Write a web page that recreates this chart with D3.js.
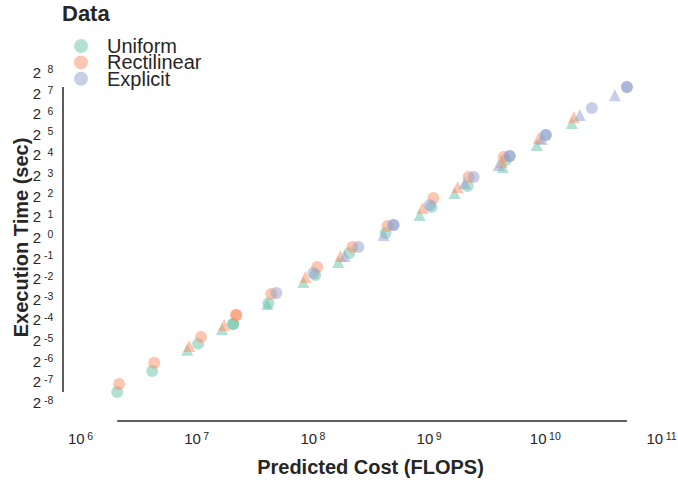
<!DOCTYPE html>
<html>
<head>
<meta charset="utf-8">
<script src="https://cdn.jsdelivr.net/npm/d3@7"></script>
<style>
    body { margin: 0; background: #fff; }
    text { font-family: "Liberation Sans", Arial, sans-serif; fill: #262626; }
</style>
</head>
<body>
<div id="wrapper"></div>
<script>
// 1. Access data

const methods = ["Uniform", "Rectilinear", "Explicit"]
const colors = ["#66c2a5", "#fc8d62", "#8da0cb"]

// [predicted cost (FLOPS), execution time (sec)]
// some runs sit on top of each other, which is why a few marks look darker
const uniformCircle = [
    [2.09e6, 0.00557], [4.18e6, 0.0113], [1.04e7, 0.0280], [2.08e7, 0.0545],
    [2.08e7, 0.0545], [4.18e7, 0.110], [1.06e8, 0.283], [2.08e8, 0.594],
    [4.26e8, 1.16], [1.06e9, 2.79], [2.17e9, 5.63], [4.61e9, 13.5],
]
const uniformTriangle = [
    [8.36e6, 0.0229], [1.67e7, 0.0461], [4.09e7, 0.107], [8.36e7, 0.224],
    [1.67e8, 0.438], [8.36e8, 2.13], [1.67e9, 4.45], [4.35e9, 10.7],
    [8.53e9, 22.3], [1.71e10, 46.9],
]
const rectilinearCircle = [
    [2.17e6, 0.00729], [4.35e6, 0.0148], [1.10e7, 0.0352], [2.21e7, 0.0738],
    [2.21e7, 0.0738], [4.43e7, 0.150], [1.10e8, 0.371], [2.21e8, 0.727],
    [4.43e8, 1.47], [1.10e9, 3.76], [2.21e9, 7.62], [4.43e9, 14.9],
]
const rectilinearTriangle = [
    [8.71e6, 0.0261], [1.74e7, 0.0529], [8.71e7, 0.265], [1.74e8, 0.536],
    [8.87e8, 2.69], [1.78e9, 5.45], [4.26e9, 12.6], [8.87e9, 28.2],
    [1.78e10, 57.3],
]
const explicitCircle = [
    [4.90e7, 0.155], [1.02e8, 0.303], [2.49e8, 0.727], [4.99e8, 1.52],
    [4.99e8, 1.52], [1.02e9, 2.97], [2.44e9, 7.62], [4.99e9, 15.4],
    [4.99e9, 15.4], [1.02e10, 31.3], [1.02e10, 31.3], [2.54e10, 77.4],
    [5.09e10, 157], [5.09e10, 157],
]
const explicitTriangle = [
    [1.89e8, 0.536], [4.09e8, 1.09], [2.04e9, 6.22], [4.01e9, 11.4],
    [9.42e9, 27.3], [2.00e10, 61.4], [4.01e10, 119],
]

const xTickExponents = [6, 7, 8, 9, 10, 11]
const yTickExponents = [8, 7, 6, 5, 4, 3, 2, 1, 0, -1, -2, -3, -4, -5, -6, -7, -8]

const circleSeries = [uniformCircle, rectilinearCircle, explicitCircle]
const triangleSeries = [uniformTriangle, rectilinearTriangle, explicitTriangle]

const points = []
methods.forEach((method, i) => {
    circleSeries[i].forEach(d => points.push({ method, shape: "circle", x: d[0], y: d[1] }))
    triangleSeries[i].forEach(d => points.push({ method, shape: "triangle", x: d[0], y: d[1] }))
})

const xAccessor = d => d.x
const yAccessor = d => d.y

// 2. Create chart dimensions

let dimensions = {
    width: 678,
    height: 483,
    margin: {
        top: 72.4,
        right: 17,
        bottom: 80.5,
        left: 80,
    },
}
dimensions.boundedWidth = dimensions.width
    - dimensions.margin.left
    - dimensions.margin.right
dimensions.boundedHeight = dimensions.height
    - dimensions.margin.top
    - dimensions.margin.bottom

// 3. Draw canvas

const wrapper = d3.select("#wrapper")
    .append("svg")
    .attr("width", dimensions.width)
    .attr("height", dimensions.height)

const bounds = wrapper.append("g")
    .attr("transform", `translate(${dimensions.margin.left},${dimensions.margin.top})`)

// 4. Create scales

const xScale = d3.scaleLog()
    .domain([1e6, 1e11])
    .range([0, dimensions.boundedWidth])

const yScale = d3.scaleLog()
    .base(2)
    .domain([2 ** -8, 2 ** 8])
    .range([dimensions.boundedHeight, 0])

const colorScale = d3.scaleOrdinal()
    .domain(methods)
    .range(colors)

// 5. Draw data

const triangleUp = {
    draw(context, size) {
        const s = Math.sqrt(size) / 2
        context.moveTo(0, -s)
        context.lineTo(s, s)
        context.lineTo(-s, s)
        context.closePath()
    }
}

bounds.append("g")
    .selectAll("path")
    .data(points)
    .enter()
    .append("path")
    .attr("transform", d => `translate(${xScale(xAccessor(d))},${yScale(yAccessor(d))})`)
    .attr("d", d => d.shape == "circle"
        ? d3.symbol().type(d3.symbolCircle).size(Math.PI * 36)()
        : d3.symbol().type(triangleUp).size(144)())
    .attr("fill", d => colorScale(d.method))
    .attr("fill-opacity", 0.5)

// 6. Draw peripherals

const xSpineY = dimensions.boundedHeight + 18.5
const ySpineX = -17

// x axis: spine trimmed to the data range
const xAxisGenerator = d3.axisBottom()
    .scale(xScale)
    .tickValues(xTickExponents.map(e => 10 ** e))
    .tickSize(0)
    .tickFormat("")

const xAxis = bounds.append("g")
    .attr("transform", `translate(0,${xSpineY})`)
    .call(xAxisGenerator)
xAxis.select(".domain").remove()

xAxis.selectAll(".tick text")
    .attr("y", 23)
    .attr("dy", null)
    .attr("fill", null)
    .style("font-size", "15px")
    .each(function (d) {
        const t = d3.select(this)
        t.append("tspan").text("10")
        t.append("tspan")
            .attr("dx", 2.5)
            .attr("dy", -4)
            .style("font-size", "10.5px")
            .text(Math.round(Math.log10(d)))
    })

const xExtent = d3.extent(points, xAccessor)
xAxis.append("line")
    .attr("x1", xScale(xExtent[0]))
    .attr("x2", xScale(xExtent[1]))
    .attr("stroke", "#262626")
    .attr("stroke-width", 1.5)

// y axis
const yAxisGenerator = d3.axisLeft()
    .scale(yScale)
    .tickValues(yTickExponents.map(e => 2 ** e))
    .tickSize(0)
    .tickFormat("")

const yAxis = bounds.append("g")
    .attr("transform", `translate(${ySpineX},0)`)
    .call(yAxisGenerator)
yAxis.select(".domain").remove()

yAxis.selectAll(".tick text")
    .attr("x", null)
    .attr("dy", null)
    .attr("y", 5)
    .attr("fill", null)
    .attr("text-anchor", "end")
    .style("font-size", "15px")
    .each(function (d) {
        const t = d3.select(this)
        t.append("tspan").attr("x", -22).text("2")
        t.append("tspan")
            .attr("x", -9.7)
            .attr("dy", -4.5)
            .style("font-size", "10.5px")
            .text(Math.round(Math.log2(d)))
    })

const yExtent = d3.extent(points, yAccessor)
yAxis.append("line")
    .attr("y1", yScale(yExtent[0]))
    .attr("y2", yScale(yExtent[1]))
    .attr("stroke", "#262626")
    .attr("stroke-width", 1.5)

// axis labels
bounds.append("text")
    .attr("x", dimensions.boundedWidth / 2)
    .attr("y", xSpineY + 53)
    .attr("text-anchor", "middle")
    .style("font-size", "20px")
    .style("font-weight", "bold")
    .text("Predicted Cost (FLOPS)")

bounds.append("text")
    .attr("transform", `translate(${-dimensions.margin.left + 28},${dimensions.boundedHeight / 2}) rotate(-90)`)
    .attr("text-anchor", "middle")
    .style("font-size", "20px")
    .style("font-weight", "bold")
    .text("Execution Time (sec)")

// legend
const legend = wrapper.append("g")
    .attr("transform", "translate(62,0)")

legend.append("text")
    .attr("y", 21)
    .style("font-size", "22px")
    .style("font-weight", "bold")
    .text("Data")

const legendItems = legend.selectAll(".item")
    .data(methods)
    .enter()
    .append("g")
    .attr("class", "item")
    .attr("transform", (d, i) => `translate(0,${46 + i * 16.4})`)

legendItems.append("circle")
    .attr("cx", 19)
    .attr("r", 7)
    .attr("fill", d => colorScale(d))
    .attr("fill-opacity", 0.5)

legendItems.append("text")
    .attr("x", 45)
    .attr("y", 6.8)
    .style("font-size", "20px")
    .text(d => d)
</script>
</body>
</html>
